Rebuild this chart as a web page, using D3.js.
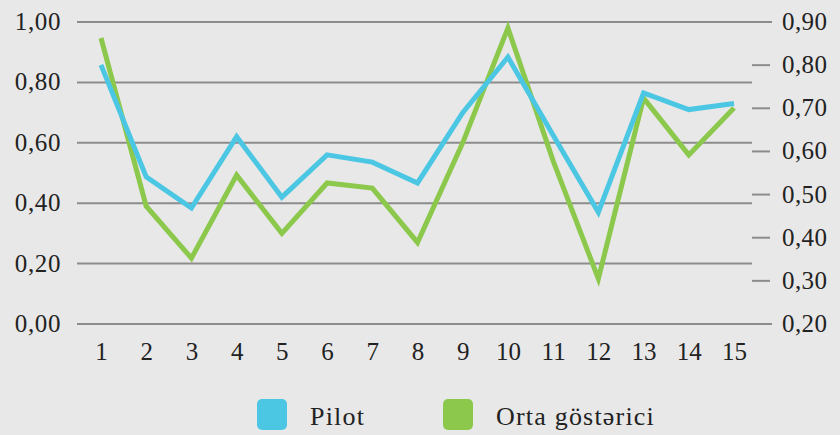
<!DOCTYPE html>
<html>
<head>
<meta charset="utf-8">
<script src="https://cdn.jsdelivr.net/npm/d3@7/dist/d3.min.js"></script>
<style>
  html, body { margin: 0; padding: 0; background: #e8e8e8; }
  svg { display: block; }
</style>
</head>
<body>
<svg id="chart" width="840" height="435"></svg>
<script>
const categories = [1, 2, 3, 4, 5, 6, 7, 8, 9, 10, 11, 12, 13, 14, 15];
const pilot = [0.858, 0.487, 0.384, 0.620, 0.420, 0.560, 0.536, 0.467, 0.700, 0.884, 0.625, 0.370, 0.765, 0.710, 0.730];
const orta  = [0.947, 0.390, 0.218, 0.493, 0.300, 0.467, 0.450, 0.270, 0.600, 0.980, 0.540, 0.150, 0.748, 0.560, 0.715];
const leftTicks = [0, 0.2, 0.4, 0.6, 0.8, 1.0];
const rightTicks = [0.2, 0.3, 0.4, 0.5, 0.6, 0.7, 0.8, 0.9];
const seriesNames = ["Pilot", "Orta göstərici"];
const colors = ["#4cc7e3", "#8cc84c"];

const FONT = "Liberation Serif";
const FS = 25;
const svg = d3.select("#chart");
const x = d3.scalePoint().domain(categories).range([101, 734]);
const y = d3.scaleLinear().domain([0, 1]).range([324, 22]);
const yR = d3.scaleLinear().domain([0.2, 0.9]).range([324, 22]);
const fmt = v => d3.format(".2f")(v).replace(".", ",");

// gridlines
svg.append("g").selectAll("line").data(leftTicks).join("line")
  .attr("x1", 77)
  .attr("x2", d => (d === 0 || d === 1) ? 772 : 752)
  .attr("y1", d => y(d)).attr("y2", d => y(d))
  .attr("stroke", "#8c8c8c").attr("stroke-width", 2);

function styleAxis(g) {
  g.attr("font-family", FONT).attr("font-size", FS);
  g.select(".domain").remove();
  g.selectAll("text").attr("fill", "#222").attr("font-family", FONT).attr("font-size", FS);
}

// left axis
const gL = svg.append("g").attr("transform", "translate(61,0)")
  .call(d3.axisLeft(y).tickValues(leftTicks).tickSize(0).tickPadding(0).tickFormat(fmt));
styleAxis(gL);
gL.selectAll("text").attr("dy", "0.3em").attr("letter-spacing", 0.6);

// right axis
const gR = svg.append("g").attr("transform", "translate(782,0)")
  .call(d3.axisRight(yR).tickValues(rightTicks).tickSize(0).tickPadding(0).tickFormat(fmt));
styleAxis(gR);
gR.selectAll("text").attr("dy", "0.3em").attr("letter-spacing", 0.4);
svg.append("g").selectAll("line").data(rightTicks.filter(d => d > 0.25 && d < 0.85)).join("line")
  .attr("x1", 752).attr("x2", 770)
  .attr("y1", d => yR(d)).attr("y2", d => yR(d))
  .attr("stroke", "#8c8c8c").attr("stroke-width", 2);

// bottom axis
const gB = svg.append("g").attr("transform", "translate(0,342)")
  .call(d3.axisBottom(x).tickSize(0).tickPadding(0));
styleAxis(gB);
gB.selectAll("text").attr("dy", "0.72em");

// lines
const line = d3.line().x((d, i) => x(categories[i])).y(d => y(d));
[orta, pilot].forEach((s, k) => {
  svg.append("path").datum(s)
    .attr("d", line)
    .attr("fill", "none")
    .attr("stroke", k === 0 ? colors[1] : colors[0])
    .attr("stroke-width", 5)
    .attr("stroke-linejoin", "miter");
});

// legend
const legendX = [257, 443];
const lg = svg.append("g");
seriesNames.forEach((n, i) => {
  lg.append("rect").attr("x", legendX[i]).attr("y", 399).attr("width", 30).attr("height", 31)
    .attr("rx", 5).attr("fill", colors[i]);
  lg.append("text").attr("x", legendX[i] + 53).attr("y", 425)
    .attr("font-family", FONT).attr("font-size", 26).attr("letter-spacing", 1.2)
    .attr("fill", "#222").text(n);
});
</script>
</body>
</html>
